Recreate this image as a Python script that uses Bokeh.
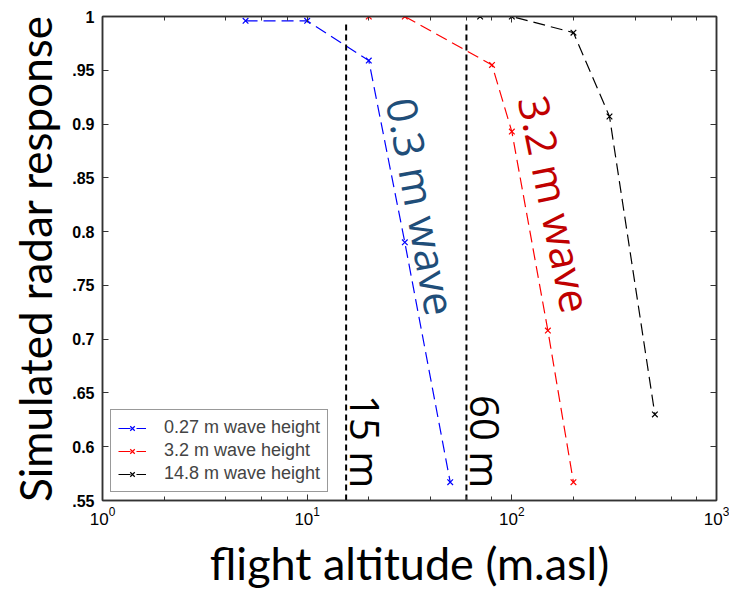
from bokeh.plotting import figure
from bokeh.models import (LogAxis, LinearAxis, FixedTicker, LogTicker, Label, LogTickFormatter)
from bokeh.embed import file_html
from bokeh.resources import INLINE

# ---- data ----
blue_x = [5, 10, 20, 30, 50]
blue_y = [0.996, 0.996, 0.959, 0.790, 0.567]
red_x = [20, 30, 80, 100, 150, 200]
red_y = [1.0, 1.0, 0.955, 0.893, 0.708, 0.567]
black_x = [70, 100, 200, 300, 500]
black_y = [1.0, 1.0, 0.985, 0.907, 0.630]
series_names = ["0.27 m wave height", "3.2 m wave height", "14.8 m wave height"]
threshold_alt = [15.5, 60]
threshold_labels = ["15 m", "60 m"]
threshold_top = 0.994
y_tick_values = [0.55, 0.6, 0.65, 0.7, 0.75, 0.8, 0.85, 0.9, 0.95, 1.0]
y_tick_labels = [".55", "0.6", ".65", "0.7", ".75", "0.8", ".85", "0.9", ".95", "1"]

p = figure(x_axis_type="log", x_range=(1, 1000), y_range=(0.55, 1.0),
           frame_width=614, frame_height=484,
           min_border_left=102, min_border_right=13, min_border_top=16, min_border_bottom=88,
           output_backend="svg", toolbar_location=None)
p.grid.visible = False
p.outline_line_color = "#333333"
p.outline_line_width = 1.5

def style_axis(ax):
    ax.axis_line_color = "#333333"
    ax.axis_line_width = 1.5
    ax.major_tick_in = 6
    ax.major_tick_out = 0
    ax.minor_tick_in = 4
    ax.minor_tick_out = 0
    ax.major_tick_line_color = "#333333"
    ax.minor_tick_line_color = "#333333"
    ax.major_label_text_font = "Liberation Sans"
    ax.major_label_text_font_size = "16px"
    ax.major_label_text_font_style = "bold"
    ax.major_label_text_color = "#000000"

xa = p.xaxis[0]
style_axis(xa)
xa.ticker = LogTicker()
xa.formatter = LogTickFormatter()
xa.major_label_text_font_style = "normal"
xa.major_label_text_font_size = "17px"
xa.major_label_standoff = 6
xa.axis_label = "flight altitude (m.asl)"
xa.axis_label_text_font = "Lato"
xa.axis_label_text_font_size = "45px"
xa.axis_label_text_font_style = "normal"
xa.axis_label_text_color = "#000000"
xa.axis_label_standoff = 8

ya = p.yaxis[0]
style_axis(ya)
ya.ticker = FixedTicker(ticks=y_tick_values)
ya.major_label_overrides = dict(zip(y_tick_values, y_tick_labels))
ya.minor_tick_line_color = None
ya.major_label_standoff = 8
ya.axis_label = "Simulated radar response"
ya.axis_label_text_font = "Lato"
ya.axis_label_text_font_size = "44px"
ya.axis_label_text_font_style = "normal"
ya.axis_label_text_color = "#000000"
ya.axis_label_standoff = 8

top = LogAxis(ticker=LogTicker())
style_axis(top)
top.major_label_text_alpha = 0
top.major_label_text_font_size = "2px"
top.major_label_standoff = 0
p.add_layout(top, "above")

right = LinearAxis(ticker=FixedTicker(ticks=y_tick_values))
style_axis(right)
right.minor_tick_line_color = None
right.major_label_text_alpha = 0
right.major_label_text_font_size = "2px"
right.major_label_standoff = 0
p.add_layout(right, "right")

colors = ["#0000ff", "#ff0000", "#000000"]
data = [(blue_x, blue_y), (red_x, red_y), (black_x, black_y)]
for (xs, ys), c, name in zip(data, colors, series_names):
    p.line(xs, ys, line_color=c, line_width=1.2, line_dash="12 6", legend_label=name)
    p.scatter(xs, ys, marker="x", size=8, line_color=c, line_width=1.2, legend_label=name)

for xv in threshold_alt:
    p.line([xv, xv], [0.55, threshold_top], line_color="black", line_width=2, line_dash="6 4")

for txt, xoff in zip(threshold_labels, [19.3, 74.3]):
    p.add_layout(Label(x=xoff, y=0.648, text=txt, angle=-90, angle_units="deg",
                       text_font="Open Sans", text_font_size="40px", text_color="black",
                       text_align="left", text_baseline="middle"))

p.add_layout(Label(x=29.0, y=0.924, text="0.3 m wave", angle=-79.5, angle_units="deg",
                   text_font="Open Sans", text_font_size="42px", text_color="#1f4e79",
                   text_align="left", text_baseline="middle"))
p.add_layout(Label(x=128, y=0.926, text="3.2 m wave", angle=-78.5, angle_units="deg",
                   text_font="Open Sans", text_font_size="42px", text_color="#c00000",
                   text_align="left", text_baseline="middle"))

leg = p.legend[0]
leg.location = "bottom_left"
leg.margin = 8
leg.padding = 7
leg.spacing = 2
leg.label_text_font = "Liberation Sans"
leg.label_text_font_size = "18px"
leg.label_standoff = 18
leg.glyph_width = 28
leg.glyph_height = 16
leg.border_line_color = "#333333"
leg.border_line_width = 1.5
leg.background_fill_alpha = 1

open("out.html", "w").write(file_html(p, INLINE))
